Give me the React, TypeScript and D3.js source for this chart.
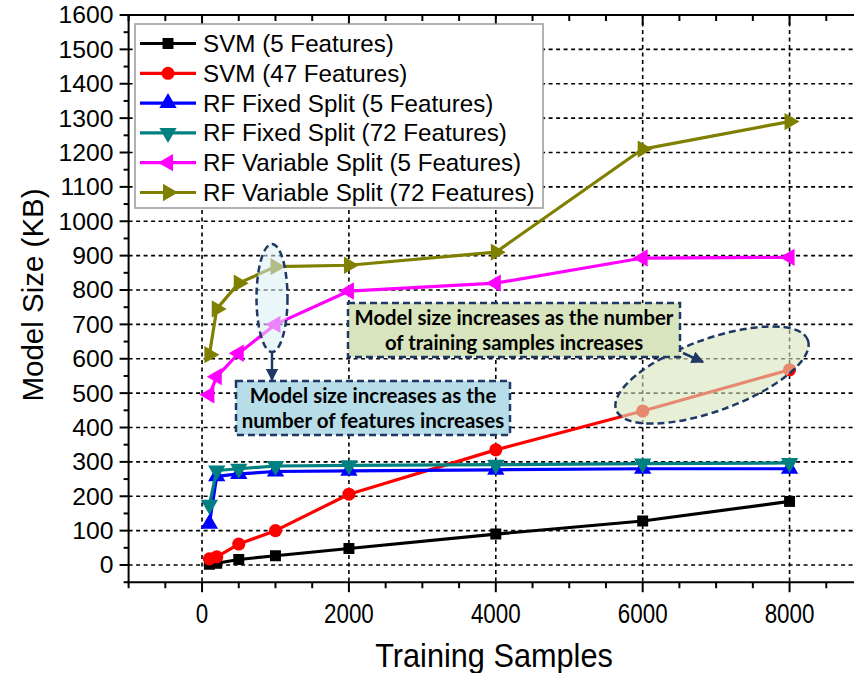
import React from "react";
import * as d3 from "d3";

// Training-set sizes and model sizes (KB) for each classifier configuration
const trainingSamples = [100, 200, 500, 1000, 2000, 4000, 6000, 8000];
const svm5 = [2, 5, 16, 27, 48, 90, 128, 185];
const svm47 = [18, 24, 61, 100, 206, 335, 448, 568];
const rfFixed5 = [120, 258, 265, 272, 274, 277, 280, 280];
const rfFixed72 = [175, 275, 280, 288, 290, 292, 295, 297];
const rfVar5 = [495, 548, 616, 700, 797, 820, 893, 895];
const rfVar72 = [612, 745, 820, 868, 872, 910, 1210, 1290];

const seriesNames = [
  "SVM (5 Features)",
  "SVM (47 Features)",
  "RF Fixed Split (5 Features)",
  "RF Fixed Split (72 Features)",
  "RF Variable Split (5 Features)",
  "RF Variable Split (72 Features)",
];
const seriesValues = [svm5, svm47, rfFixed5, rfFixed72, rfVar5, rfVar72];
const seriesColors = ["#000000", "#ff0000", "#0000ff", "#008080", "#ff00ff", "#808000"];

const yTickValues = d3.range(0, 1601, 100);
const xTickValues = [0, 2000, 4000, 6000, 8000];

const W = 854;
const H = 673;

const x = d3.scaleLinear().domain([-1000, 9000]).range([128.6, 863]);
const y = d3.scaleLinear().domain([-50, 1600]).range([582.2, 15]);

type MarkerSpec = { type: d3.SymbolType; rotate: number; size: number };
const markers: MarkerSpec[] = [
  { type: d3.symbolSquare, rotate: 0, size: 120 },
  { type: d3.symbolCircle, rotate: 0, size: 135 },
  { type: d3.symbolTriangle, rotate: 0, size: 130 },
  { type: d3.symbolTriangle, rotate: 180, size: 130 },
  { type: d3.symbolTriangle, rotate: -90, size: 130 },
  { type: d3.symbolTriangle, rotate: 90, size: 130 },
];

const FONT = "'Liberation Sans', Arial, sans-serif";
const NOTE_FONT = "Lato, 'Open Sans', sans-serif";
const NAVY = "#1f3864";

function Marker({ m, color, cx, cy }: { m: MarkerSpec; color: string; cx: number; cy: number }) {
  const d = d3.symbol().type(m.type).size(m.size)() || "";
  return <path d={d} fill={color} transform={`translate(${cx},${cy}) rotate(${m.rotate})`} />;
}

export default function App() {
  const line = d3
    .line<number>()
    .x((_, i) => x(trainingSamples[i]))
    .y((v) => y(v));

  const left = x(-1000);
  const bottom = y(-50);
  const top = y(1600);

  const yMinor = d3.range(-50, 1600, 100);
  const xMinor = d3.range(-1000, 9001, 500);

  const legendX = 135;
  const legendY = 24;
  const legendRowH = 29.8;

  return (
    <div style={{ position: "fixed", left: 0, top: 0 }}>
      <svg width={W} height={H} style={{ display: "block", background: "#fff" }}>
        <defs>
          <marker id="arrowNavy" viewBox="0 0 10 10" refX="9" refY="5" markerWidth="5" markerHeight="5" orient="auto">
            <path d="M0,0 L10,5 L0,10 z" fill={NAVY} />
          </marker>
          <clipPath id="plotClip">
            <rect x={left} y={top} width={W - left} height={bottom - top} />
          </clipPath>
        </defs>

        {/* dashed grid */}
        <g stroke="#000" strokeWidth={1.6} strokeDasharray="4,3.5">
          {d3.range(0, 1501, 100).map((v) => (
            <line key={`hy${v}`} x1={left} x2={W} y1={y(v)} y2={y(v)} />
          ))}
          {xTickValues.map((v) => (
            <line key={`vx${v}`} x1={x(v)} x2={x(v)} y1={top} y2={bottom} />
          ))}
        </g>

        {/* series */}
        <g clipPath="url(#plotClip)">
          {seriesValues.map((vals, si) => (
            <g key={seriesNames[si]}>
              <path d={line(vals) || ""} fill="none" stroke={seriesColors[si]} strokeWidth={3.2} strokeLinejoin="round" />
              {vals.map((v, i) => (
                <Marker key={i} m={markers[si]} color={seriesColors[si]} cx={x(trainingSamples[i])} cy={y(v)} />
              ))}
            </g>
          ))}
        </g>

        {/* axes frame */}
        <g stroke="#000" strokeWidth={2}>
          <line x1={left} x2={left} y1={top - 1} y2={bottom + 1} />
          <line x1={left - 1} x2={W} y1={bottom} y2={bottom} />
          <line x1={left - 1} x2={W} y1={top} y2={top} />
          {yTickValues.map((v) => (
            <line key={`yt${v}`} x1={left - 9} x2={left} y1={y(v)} y2={y(v)} />
          ))}
          {yMinor.map((v) => (
            <line key={`ym${v}`} x1={left - 5} x2={left} y1={y(v)} y2={y(v)} />
          ))}
          {xMinor.map((v) => {
            const major = v % 2000 === 0;
            return (
              <g key={`xt${v}`}>
                <line x1={x(v)} x2={x(v)} y1={bottom} y2={bottom + (major ? 10 : 6)} />
                <line x1={x(v)} x2={x(v)} y1={top} y2={top + (major ? 10 : 6)} />
              </g>
            );
          })}
        </g>

        {/* tick labels */}
        <g fontFamily={FONT} fill="#000">
          {yTickValues.map((v) => (
            <text
              key={`yl${v}`}
              textAnchor="end"
              dominantBaseline="central"
              fontSize={24}
              transform={`translate(${left - 15},${y(v)}) scale(1.03,1)`}
            >
              {v}
            </text>
          ))}
          {xTickValues.map((v) => (
            <text
              key={`xl${v}`}
              textAnchor="middle"
              fontSize={28}
              transform={`translate(${x(v)},${bottom + 41}) scale(0.8,1)`}
            >
              {v}
            </text>
          ))}
          <text textAnchor="middle" fontSize={29.5} transform={`translate(43,${y(800) + 5}) rotate(-90)`}>
            Model Size (KB)
          </text>
          <text textAnchor="middle" fontSize={33} transform={`translate(494,667) scale(0.93,1)`}>
            Training Samples
          </text>
        </g>

        {/* legend */}
        <g>
          <rect x={legendX} y={legendY} width={408} height={184} fill="#fff" stroke="#999" strokeWidth={1.5} />
          {seriesNames.map((name, i) => {
            const cy = legendY + 19.5 + i * legendRowH;
            return (
              <g key={name}>
                <line x1={140} x2={196} y1={cy} y2={cy} stroke={seriesColors[i]} strokeWidth={3.2} />
                <Marker m={markers[i]} color={seriesColors[i]} cx={168} cy={cy} />
                <text x={203} y={cy} dominantBaseline="central" fontFamily={FONT} fontSize={24.2} fill="#000">
                  {name}
                </text>
              </g>
            );
          })}
        </g>

        {/* feature-count annotation */}
        <ellipse cx={272} cy={298} rx={15.5} ry={54} fill="#dbeef4" fillOpacity={0.55} stroke={NAVY} strokeWidth={2.5} strokeDasharray="7,4" />
        <line x1={272} y1={352} x2={272} y2={380} stroke={NAVY} strokeWidth={2.5} markerEnd="url(#arrowNavy)" />
        <rect x={236} y={381} width={274} height={54} fill="#b7dde8" stroke={NAVY} strokeWidth={2.5} strokeDasharray="7,4" />
        <g fontFamily={NOTE_FONT} fontWeight="bold" fontSize={20.5} fill="#000" textAnchor="middle">
          <text x={373} y={403}>Model size increases as the</text>
          <text x={373} y={428}>number of features increases</text>
        </g>

        {/* training-samples annotation */}
        <ellipse
          cx={712}
          cy={375}
          rx={102}
          ry={36}
          transform="rotate(-20,712,375)"
          fill="#d7e4bd"
          fillOpacity={0.6}
          stroke={NAVY}
          strokeWidth={2.5}
          strokeDasharray="7,4"
        />
        <line x1={683} y1={353} x2={703} y2={362} stroke={NAVY} strokeWidth={2.5} markerEnd="url(#arrowNavy)" />
        <rect x={348} y={303} width={332} height={54} fill="#d7e4bd" stroke={NAVY} strokeWidth={2.5} strokeDasharray="7,4" />
        <g fontFamily={NOTE_FONT} fontWeight="bold" fontSize={20.3} fill="#000" textAnchor="middle">
          <text x={514} y={325}>Model size increases as the number</text>
          <text x={514} y={350}>of training samples increases</text>
        </g>
      </svg>
    </div>
  );
}
